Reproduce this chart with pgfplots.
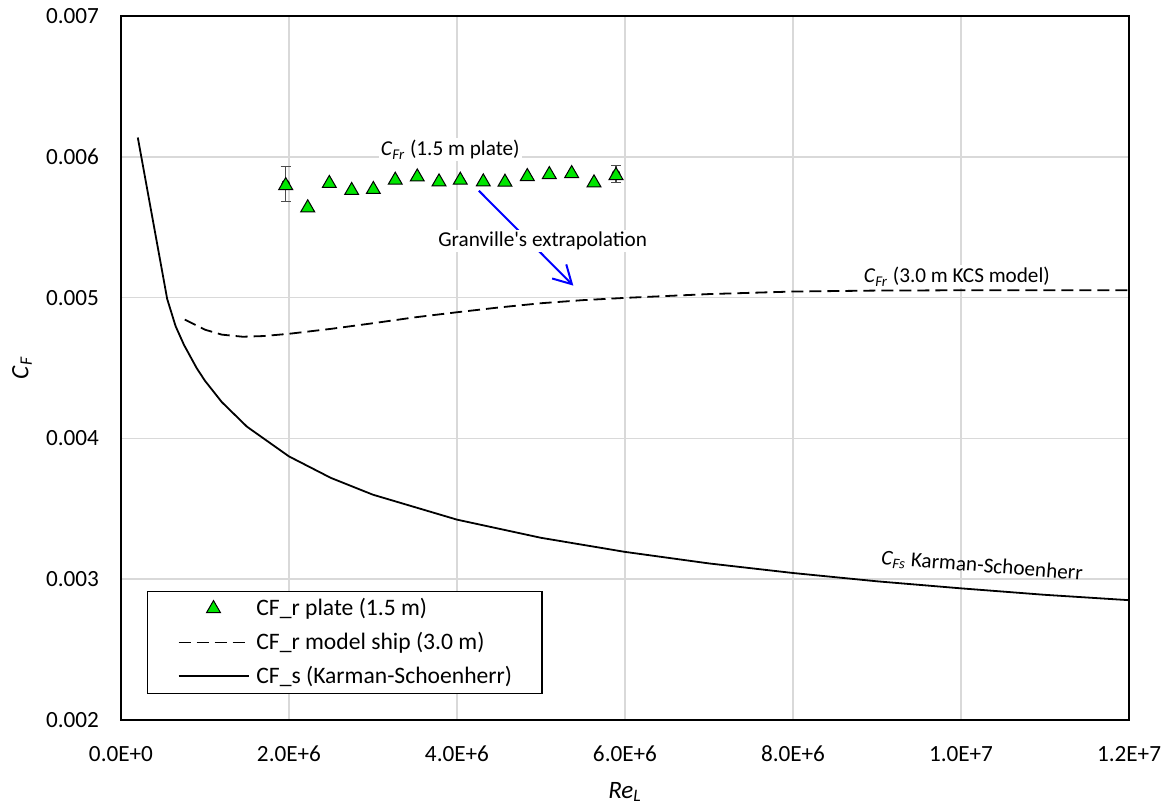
\documentclass[border=0pt]{standalone}
\usepackage{fontspec}
\setmainfont{Carlito}
\usepackage{pgfplots}
\pgfplotsset{compat=1.18}
\usetikzlibrary{arrows.meta}
\definecolor{gridgray}{HTML}{D9D9D9}
\definecolor{mkgreen}{HTML}{00E600}
\newcommand{\annfont}{\fontsize{10.6}{12.7}\selectfont}
\newcommand{\tickfont}{\fontsize{11.6}{13.9}\selectfont}
\pgfplotsset{
  linelegend/.style={legend image code/.code={
    \draw[mark repeat=2,mark phase=2,##1] plot coordinates {(0pt,0pt) (17.5pt,0pt) (35pt,0pt)};}},
  marklegend/.style={legend image code/.code={
    \path[draw=none, fill=none] (0pt,0pt) -- (35pt,0pt);
    \draw[##1, only marks] plot coordinates {(17.5pt,0pt)};}},
}
\begin{document}
\begin{tikzpicture}
\begin{axis}[
  scale only axis,
  width=504pt, height=352pt,
  xmin=0, xmax=12000000, ymin=0.002, ymax=0.007,
  scaled x ticks=false, scaled y ticks=false,
  xtick={0,2000000,4000000,6000000,8000000,10000000,12000000},
  xticklabels={0.0E+0,2.0E+6,4.0E+6,6.0E+6,8.0E+6,1.0E+7,1.2E+7},
  ytick={0.002,0.003,0.004,0.005,0.006,0.007},
  yticklabels={0.002,0.003,0.004,0.005,0.006,0.007},
  major tick length=0pt,
  tick label style={font=\tickfont},
  xticklabel style={yshift=-9.5pt},
  yticklabel style={xshift=-7.5pt},
  grid=major,
  major grid style={gridgray, line width=0.75pt},
  axis line style={black, line width=0.8pt},
  xlabel={\textit{Re}\textsubscript{\textit{L}}},
  ylabel={\textit{C}\textsubscript{\textit{F}}},
  label style={font=\fontsize{12.5}{15}\selectfont},
  x label style={at={(axis description cs:0.5,-0.1023)}, anchor=center},
  y label style={at={(axis description cs:-0.0982,0.5)}, anchor=center},
  legend style={at={(axis description cs:0.0258,0.0369)}, anchor=south west,
    draw=black, line width=0.6pt, fill=white, font=\fontsize{11.8}{14}\selectfont,
    inner xsep=15pt, inner ysep=1.5pt, row sep=2.8pt, column sep=3.5pt,
    nodes={inner xsep=0pt}},
  legend cell align=left,
  linelegend,
]
% error bars (first and last plate points)
\addplot[forget plot, only marks, mark=none,
  error bars/.cd, y dir=both, y explicit,
  error bar style={draw=black!70, line width=0.7pt},
  error mark options={draw=black!70, rotate=90, mark size=2.6pt, line width=0.7pt}]
  coordinates {(1961000,0.005806) +- (0,0.000125) (5893000,0.005877) +- (0,0.00006)};
% plate measurements
\addplot[only marks, mark=triangle*, mark size=4pt,
  mark options={fill=mkgreen, draw=black, line width=0.5pt}, marklegend]
  coordinates {
  (1961000,0.005796) (2223000,0.005638) (2480000,0.005811) (2746000,0.005761)
  (3004000,0.005768) (3265000,0.005834) (3527000,0.005857) (3786000,0.005822)
  (4039000,0.005834) (4313000,0.005822) (4571000,0.005820) (4837000,0.005860)
  (5099000,0.005874) (5365000,0.005881) (5631000,0.005815) (5893000,0.005867)};
\addlegendentry{CF\_r plate (1.5 m)}
% model ship
\addplot[black, line width=0.9pt, dash pattern=on 6pt off 3pt, mark=none]
  coordinates {
  (760000,0.004844) (1000000,0.004772) (1200000,0.004737) (1450000,0.004722)
  (1700000,0.004727) (2000000,0.004743) (2500000,0.004778) (3000000,0.004818)
  (3500000,0.004860) (4000000,0.004896) (4500000,0.004930) (5000000,0.004960)
  (5500000,0.004982) (6000000,0.004998) (7000000,0.005025) (8000000,0.005043)
  (9000000,0.005050) (10000000,0.005052) (11000000,0.005052) (12000000,0.005052)};
\addlegendentry{CF\_r model ship (3.0 m)}
% Karman-Schoenherr
\addplot[black, line width=0.9pt, mark=none]
  coordinates {
  (200000,0.006137) (550000,0.004990) (650000,0.004797) (750000,0.004664)
  (900000,0.004500) (1000000,0.004409) (1200000,0.004258) (1500000,0.004083)
  (2000000,0.003872) (2500000,0.003719) (3000000,0.003600) (4000000,0.003423)
  (5000000,0.003294) (6000000,0.003194) (7000000,0.003112) (8000000,0.003044)
  (9000000,0.002985) (10000000,0.002935) (11000000,0.002889) (12000000,0.002851)};
\addlegendentry{CF\_s (Karman-Schoenherr)}
% annotations
\draw[blue, line width=1pt, -{Straight Barb[length=9pt,width=10pt,line width=1pt]}]
  (axis cs:4260000,0.005759) -- (axis cs:5385000,0.005085);
\node[font=\annfont, fill=white, inner sep=1pt] at (axis cs:5020000,0.0054)
  {Granville\textquotesingle s extrapolation};
\node[font=\annfont, fill=white, inner sep=1pt] at (axis cs:3920000,0.00605)
  {\textit{C}\textsubscript{\textit{Fr}} (1.5 m plate)};
\node[font=\annfont, fill=white, inner sep=1pt] at (axis cs:9950000,0.005149)
  {\textit{C}\textsubscript{\textit{Fr}} (3.0 m KCS model)};
\node[font=\annfont, rotate=-4.5, inner sep=1pt] at (axis cs:10250000,0.00309)
  {\textit{C}\textsubscript{\textit{Fs}} Karman-Schoenherr};
\coordinate (sw) at (rel axis cs:0,0);
\coordinate (ne) at (rel axis cs:1,1);
\end{axis}
\pgfresetboundingbox
\path ([shift={(-60.5pt,-44.5pt)}]sw) rectangle ([shift={(21.5pt,8pt)}]ne);
\end{tikzpicture}
\end{document}
